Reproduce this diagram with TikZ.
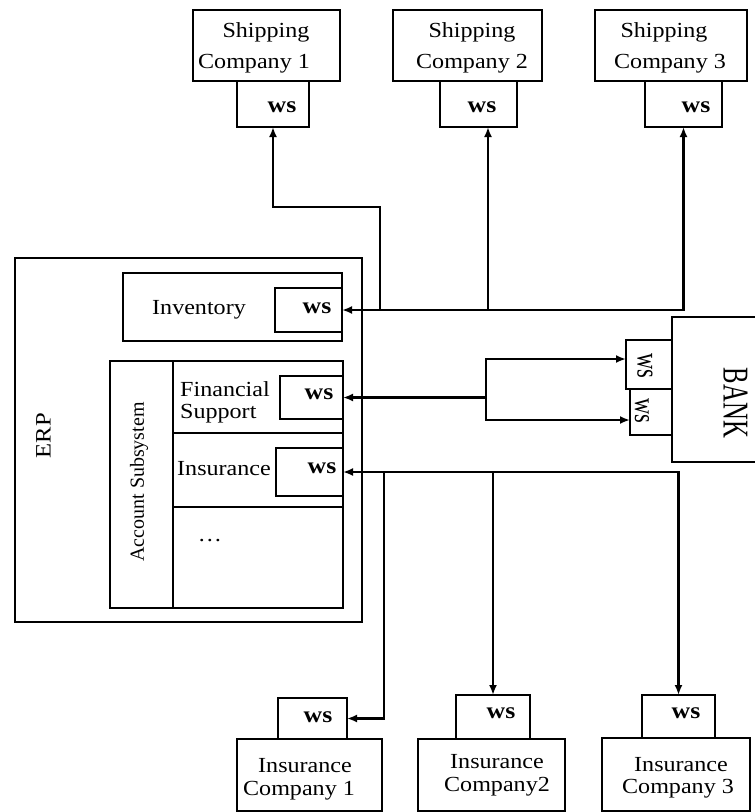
\documentclass[tikz,border=0pt]{standalone}
\usepackage{fontspec}
\setmainfont{Liberation Serif}[FakeStretch=1.12]
\newfontfamily\plainfont{Liberation Serif}
\usepackage{graphicx}
\usetikzlibrary{arrows.meta,calc}
\tikzset{
  bx/.style={draw, line width=1.8pt, inner sep=0pt, outer sep=0pt},
  txt/.style={font=\fontsize{21.5}{24}\selectfont, inner sep=0pt, anchor=base},
  wst/.style={font=\bfseries\fontsize{23}{26}\selectfont, inner sep=0pt, anchor=base},
  conn/.style={line width=2.1pt},
  arr/.style={conn, -{Latex[length=10pt,width=8pt]}},
  darr/.style={conn, {Latex[length=10pt,width=8pt]}-{Latex[length=10pt,width=8pt]}}
}
\begin{document}
\begin{tikzpicture}[x=1pt, y=-1pt]
\useasboundingbox (0,0) rectangle (755,812);

% shipping companies
\node[bx, minimum width=147pt, minimum height=71pt] (sc1) at (266.5,45.5) {};
\node[bx, minimum width=72pt, minimum height=46pt] (sc1ws) at (273,104) {};
\node[bx, minimum width=149pt, minimum height=71pt] (sc2) at (467.5,45.5) {};
\node[bx, minimum width=77pt, minimum height=46pt] (sc2ws) at (478.5,104) {};
\node[bx, minimum width=152pt, minimum height=71pt] (sc3) at (671,45.5) {};
\node[bx, minimum width=77pt, minimum height=46pt] (sc3ws) at (683.5,104) {};
\node[txt] (sc1a) at (266,37) {Shipping};
\node[txt] (sc1b) at (254,68) {Company 1};
\node[txt] (sc2a) at (472,37) {Shipping};
\node[txt] (sc2b) at (472,68) {Company 2};
\node[txt] (sc3a) at (664,37) {Shipping};
\node[txt] (sc3b) at (670,68) {Company 3};
\node[wst] (sc1t) at (282,112) {ws};
\node[wst] (sc2t) at (482,112) {ws};
\node[wst] (sc3t) at (696,112) {ws};

% ERP
\node[bx, minimum width=347pt, minimum height=364pt] (erp) at (188.5,440) {};
\node[txt, anchor=center, rotate=90, font=\fontsize{22}{24}\selectfont] (erpt) at (43.5,435.5) {ERP};
\node[bx, minimum width=219pt, minimum height=68pt] (inv) at (232.5,307) {};
\node[bx, minimum width=67pt, minimum height=44pt] (invws) at (308.5,310) {};
\node[txt] (invt) at (199,314) {Inventory};
\node[wst] (invwst) at (317,313) {ws};

\node[bx, minimum width=63pt, minimum height=247pt] (acc) at (141.5,484.5) {};
\node[inner sep=0pt, rotate=90, font=\plainfont\fontsize{20}{22}\selectfont] (acct) at (139,482) {Account Subsystem};
\node[bx, minimum width=170pt, minimum height=72pt] (fin) at (258,397) {};
\node[bx, minimum width=170pt, minimum height=74pt] (ins) at (258,470) {};
\node[bx, minimum width=170pt, minimum height=101pt] (etc) at (258,557.5) {};
\node[bx, minimum width=63pt, minimum height=43pt] (finws) at (311.5,397.5) {};
\node[bx, minimum width=67pt, minimum height=48pt] (insws) at (309.5,472) {};
\node[txt, anchor=base west] (fint1) at (180,396) {Financial};
\node[txt, anchor=base west] (fint2) at (180,418) {Support};
\node[wst] (finwst) at (319,399) {ws};
\node[txt, anchor=base west] (inst) at (177,475) {Insurance};
\node[wst] (inswst) at (322,473) {ws};
\node[txt] (etct) at (210,541) {\dots};

% bank
\node[bx, minimum width=90pt, minimum height=145pt] (bank) at (717,389.5) {};
\node[bx, minimum width=46pt, minimum height=49pt] (bws1) at (649,364.5) {};
\node[bx, minimum width=42pt, minimum height=46pt] (bws2) at (651,412) {};
\node[inner sep=0pt, rotate=-90] (bankt) at (735.5,403) {\resizebox{70pt}{24pt}{\plainfont BANK}};
\node[inner sep=0pt, rotate=-90] (bws1t) at (645,366) {\resizebox{25pt}{15pt}{\plainfont ws}};
\node[inner sep=0pt, rotate=-90] (bws2t) at (642,411) {\resizebox{25pt}{14pt}{\plainfont ws}};

% insurance companies
\node[bx, minimum width=69pt, minimum height=41pt] (ic1ws) at (312.5,718.5) {};
\node[bx, minimum width=145pt, minimum height=72pt] (ic1) at (309.5,775) {};
\node[bx, minimum width=74pt, minimum height=44pt] (ic2ws) at (493,717) {};
\node[bx, minimum width=147pt, minimum height=72pt] (ic2) at (491.5,775) {};
\node[bx, minimum width=73pt, minimum height=43pt] (ic3ws) at (678.5,716.5) {};
\node[bx, minimum width=148pt, minimum height=73pt] (ic3) at (676,774.5) {};
\node[wst] (ic1t) at (318,722) {ws};
\node[wst] (ic2t) at (501,718) {ws};
\node[wst] (ic3t) at (686,718) {ws};
\node[txt] (ic1a) at (305,772) {Insurance};
\node[txt] (ic1b) at (299,795) {Company 1};
\node[txt] (ic2a) at (497,768) {Insurance};
\node[txt] (ic2b) at (497,791) {Company2};
\node[txt] (ic3a) at (681,771) {Insurance};
\node[txt] (ic3b) at (678,793) {Company 3};

% connectors: shipping
\draw[darr] (invws.east) -| (sc3ws.south);
\coordinate (js2) at (488,310);
\draw[arr] (js2) -- (js2 |- sc2ws.south);
\coordinate (js1) at (380,310);
\coordinate (bs1) at (380,207);
\draw[arr] (js1) -- (bs1) -| (sc1ws.south);

% connectors: bank
\coordinate (jb) at (486,397.5);
\draw[arr] (jb) -- (finws.east);
\draw[arr] (jb) |- ([yshift=5.5pt]bws1.west);
\draw[arr] (jb) |- ([yshift=-8pt]bws2.west);

% connectors: insurance
\draw[darr] (insws.east) -| (ic3ws.north);
\coordinate (ji2) at (ic2ws.north |- insws.east);
\draw[arr] (ji2) -- (ic2ws.north);
\coordinate (ji1) at (384,472);
\draw[arr] (ji1) |- (ic1ws.east);
\end{tikzpicture}
\end{document}
